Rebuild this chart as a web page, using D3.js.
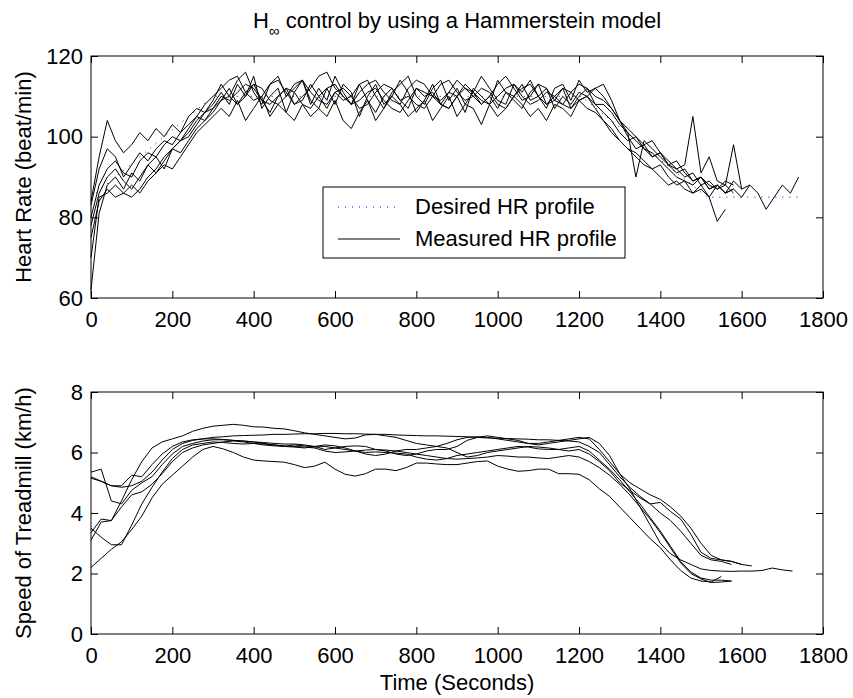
<!DOCTYPE html>
<html>
<head>
<meta charset="utf-8">
<script src="https://cdn.jsdelivr.net/npm/d3@7"></script>
<style>
  body { margin: 0; background: #fff; }
  text { font-family: "Liberation Sans", Arial, sans-serif; }
</style>
</head>
<body>
<svg id="chart" width="853" height="698"></svg>
<script>
// desired heart rate profile (beat/min)
var desiredTime = [0, 300, 1205, 1515, 1740];
var desiredHR = [85, 110, 110, 85, 85];

// measured heart rate, one sample every 20 s
var hrStep = 20;
var hrRun1 = [62, 81, 88, 90, 87, 91, 89, 93, 95, 92, 97, 99, 101, 104, 106, 108,
  111, 108, 113, 110, 115, 107, 110, 112, 106, 111, 114, 109, 107, 112, 108, 113, 111, 105, 110, 113,
  108, 110, 114, 111, 106, 109, 113, 108, 111, 110, 106, 112, 110, 108, 114, 111, 109, 107, 111, 113,
  108, 110, 112, 107, 110, 112, 108,
  108, 106, 103, 101, 99, 97, 96, 94, 92, 90, 89, 88, 90, 87, 88, 86, 89, 87, 88];
var hrRun2 = [84, 95, 104, 99, 96, 98, 101, 99, 102, 100, 103, 101, 105, 107, 106, 109,
  113, 110, 114, 116, 111, 108, 113, 115, 110, 112, 114, 108, 112, 109, 115, 111, 108, 113, 114, 110,
  107, 111, 113, 115, 110, 108, 112, 114, 109, 112, 108, 111, 115, 112, 109, 108, 113, 111, 114, 110,
  107, 112, 113, 109, 114, 111, 112,
  113, 109, 104, 100, 97, 98, 95, 96, 93, 94, 91, 89, 90, 88, 87, 89, 88];
var hrRun3 = [80, 88, 92, 94, 91, 90, 94, 96, 95, 98, 100, 99, 102, 105, 104, 107,
  109, 112, 108, 110, 113, 109, 106, 110, 112, 108, 109, 113, 110, 107, 111, 109, 110, 113, 109, 106,
  110, 112, 109, 107, 112, 110, 111, 108, 107, 110, 113, 111, 108, 110, 107, 111, 110, 113, 109, 110,
  112, 107, 110, 108, 111, 110, 108,
  106, 104, 101, 99, 100, 97, 95, 96, 93, 91, 92, 89, 90, 87, 88, 86, 87, 85, 88, 86, 82, 85, 88, 86, 90];
var hrRun4 = [70, 85, 86, 88, 86, 85, 87, 90, 92, 95, 97, 96, 99, 102, 104, 106,
  109, 110, 108, 111, 113, 112, 109, 108, 110, 113, 114, 111, 109, 108, 111, 112, 110, 107, 108, 111,
  113, 112, 109, 110, 108, 107, 110, 113, 114, 111, 109, 110, 112, 111, 108, 107, 110, 112, 113, 110,
  108, 109, 112, 111, 109, 110, 112,
  110, 107, 104, 101, 90, 99, 97, 95, 93, 92, 90, 91, 88, 89, 87, 88, 86];
var hrRun5 = [75, 84, 87, 85, 86, 88, 86, 89, 91, 93, 92, 95, 98, 101, 103, 105,
  107, 105, 109, 104, 107, 110, 105, 108, 106, 104, 108, 105, 107, 105, 109, 104, 102, 106, 109, 104,
  107, 110, 108, 105, 107, 109, 104, 107, 110, 105, 108, 107, 103, 108, 105, 107, 110, 108, 105, 107,
  104, 108, 107, 105, 109, 107, 106,
  104, 102, 99, 97, 95, 93, 92, 90, 88, 89, 87, 86, 88, 85, 79, 82];
var hrRun6 = [83, 92, 97, 95, 90, 93, 96, 94, 97, 99, 98, 101, 103, 105, 108, 110,
  112, 114, 115, 111, 109, 110, 113, 114, 111, 108, 110, 112, 115, 116, 112, 110, 108, 111, 113, 114,
  111, 109, 108, 112, 114, 113, 110, 109, 111, 114, 112, 110, 108, 110, 113, 115, 112, 109, 110, 113,
  112, 109, 108, 111, 113, 112, 110,
  109, 107, 104, 102, 100, 98, 99, 96, 94, 92, 93, 105, 91, 95, 89, 88, 98, 87];
var hrRun7 = [78, 86, 90, 92, 89, 87, 90, 93, 91, 94, 97, 99, 100, 103, 106, 107,
  110, 109, 111, 113, 112, 109, 108, 110, 112, 111, 108, 107, 110, 112, 113, 110, 108, 109, 111, 112,
  109, 107, 106, 109, 112, 111, 110, 108, 107, 110, 112, 111, 109, 108, 110, 112, 113, 110, 108, 109,
  111, 110, 108, 107, 109, 110, 107,
  104, 101, 99, 97, 96, 94, 92, 93, 90, 88, 89, 86, 87, 85, 88, 86, 87];

// treadmill speed (km/h), one sample every 25 s
var speedStep = 25;
var speedRun1 = [3.1, 3.7, 3.75, 4.4, 5.1, 5.7, 6.15, 6.35, 6.45, 6.55,
  6.7, 6.8, 6.87, 6.9, 6.93, 6.9, 6.85, 6.84, 6.8, 6.78,
  6.72, 6.65, 6.6, 6.55, 6.5, 6.45, 6.48, 6.58, 6.6, 6.55,
  6.5, 6.4, 6.3, 6.25, 6.2, 6.15, 6.0, 5.85, 5.9, 6.0,
  6.05, 6.1, 6.15, 6.2, 6.18, 6.15, 6.1, 6.05, 6.1, 5.95,
  5.7, 5.4, 5.0, 4.75, 4.5, 4.3, 4.35, 4.05, 3.8, 3.3,
  2.7, 2.5, 2.45, 2.4, 2.3, 2.25];
var speedRun2 = [5.2, 5.05, 4.9, 4.85, 4.9, 5.05, 5.35, 5.75, 6.1, 6.3,
  6.4, 6.45, 6.5, 6.52, 6.55, 6.56, 6.57, 6.58, 6.6, 6.6,
  6.61, 6.62, 6.62, 6.63, 6.63, 6.62, 6.62, 6.61, 6.6, 6.6,
  6.58, 6.57, 6.56, 6.55, 6.55, 6.54, 6.53, 6.52, 6.5, 6.48,
  6.47, 6.46, 6.45, 6.44, 6.42, 6.42, 6.4, 6.38, 6.35, 6.2,
  6.0, 5.6, 5.2, 4.85, 4.55, 4.3, 4.0, 3.75, 3.4, 3.0,
  2.6, 2.45, 2.4, 2.3];
var speedRun3 = [5.35, 5.45, 4.4, 4.3, 4.75, 5.0, 5.2, 5.6, 5.95, 6.2,
  6.3, 6.38, 6.42, 6.42, 6.4, 6.38, 6.35, 6.33, 6.3, 6.28,
  6.28, 6.25, 6.2, 6.1, 6.15, 6.2, 6.22, 6.2, 6.1, 6.05,
  5.95, 5.9, 5.95, 6.05, 6.1, 6.1, 6.2, 6.4, 6.5, 6.55,
  6.5, 6.45, 6.4, 6.3, 6.25, 6.3, 6.35, 6.4, 6.45, 6.5,
  6.3, 5.9, 5.3, 4.8, 4.2, 3.6, 3.0, 2.65, 2.45, 2.3,
  2.15, 2.1, 2.08, 2.07, 2.08, 2.08, 2.1, 2.18, 2.12, 2.08];
var speedRun4 = [3.5, 3.2, 2.95, 2.95, 3.6, 4.3, 4.85, 5.35, 5.8, 6.1,
  6.25, 6.3, 6.35, 6.33, 6.3, 6.28, 6.3, 6.25, 6.22, 6.2,
  6.25, 6.22, 6.18, 6.2, 6.15, 6.1, 6.05, 6.0, 6.02, 6.0,
  5.98, 5.95, 5.85, 5.78, 5.75, 5.8, 5.9, 5.95, 6.0, 6.05,
  6.1, 6.15, 6.2, 6.18, 6.12, 6.1, 6.1, 6.15, 6.2, 6.05,
  5.75, 5.45, 5.1, 4.7, 4.3, 3.85, 3.4, 2.9, 2.4, 2.05,
  1.85, 1.78, 1.78, 1.75];
var speedRun5 = [2.2, 2.5, 2.8, 3.05, 3.45, 3.9, 4.5, 4.95, 5.25, 5.55,
  5.85, 6.1, 6.2, 6.12, 6.0, 5.85, 5.75, 5.72, 5.7, 5.68,
  5.6, 5.5, 5.55, 5.68, 5.45, 5.28, 5.22, 5.3, 5.45, 5.45,
  5.4, 5.5, 5.65, 5.65, 5.62, 5.6, 5.6, 5.65, 5.7, 5.72,
  5.55, 5.45, 5.38, 5.4, 5.45, 5.45, 5.3, 5.3, 5.28, 5.1,
  4.8, 4.55, 4.2, 3.85, 3.5, 3.15, 2.85, 2.45, 2.1, 1.85,
  1.75, 1.72, 1.9];
var speedRun6 = [5.15, 5.05, 4.9, 4.9, 5.25, 5.2, 5.6, 5.95, 6.2, 6.35,
  6.42, 6.45, 6.45, 6.43, 6.4, 6.38, 6.35, 6.3, 6.25, 6.2,
  6.18, 6.15, 6.2, 6.25, 6.22, 6.15, 6.05, 5.95, 5.9, 5.95,
  6.05, 6.1, 6.1, 6.15, 6.2, 6.3, 6.42, 6.5, 6.52, 6.5,
  6.45, 6.4, 6.35, 6.3, 6.3, 6.35, 6.4, 6.45, 6.5, 6.45,
  6.1, 5.7, 5.3, 5.0, 4.8, 4.6, 4.45, 4.2, 3.9, 3.5,
  3.0, 2.6, 2.45, 2.4, 2.3];
var speedRun7 = [3.35, 3.8, 3.75, 4.2, 4.6, 4.7, 4.95, 5.3, 5.7, 6.0,
  6.15, 6.25, 6.3, 6.35, 6.38, 6.35, 6.3, 6.28, 6.25, 6.22,
  6.2, 6.18, 6.15, 6.05, 6.0, 6.02, 6.05, 6.08, 6.1, 6.08,
  6.05, 6.0, 5.95, 5.9, 5.85, 5.8, 5.78, 5.8, 5.82, 5.85,
  5.9, 5.88, 5.85, 5.85, 5.82, 5.8, 5.85, 5.9, 5.85, 5.7,
  5.5, 5.25, 4.95, 4.6, 4.2, 3.8, 3.35, 2.85, 2.35, 2.0,
  1.82, 1.7, 1.72, 1.75];

var timeTicks = [0, 200, 400, 600, 800, 1000, 1200, 1400, 1600, 1800];
var hrTicks = [60, 80, 100, 120];
var speedTicks = [0, 2, 4, 6, 8];
var legendLabels = ['Desired HR profile', 'Measured HR profile'];

var hrRuns = [hrRun1, hrRun2, hrRun3, hrRun4, hrRun5, hrRun6, hrRun7];
var speedRuns = [speedRun1, speedRun2, speedRun3, speedRun4, speedRun5, speedRun6, speedRun7];

var fontSize = 22;
var svg = d3.select('#chart');

var x = d3.scaleLinear().domain([0, 1800]).range([91, 823]);
var yHR = d3.scaleLinear().domain([60, 120]).range([298, 56]);
var ySpeed = d3.scaleLinear().domain([0, 8]).range([634, 392]);

function drawAxes(y, ticks, top, bottom) {
  var g = svg.append('g');
  g.append('g').attr('transform', 'translate(0,' + bottom + ')')
    .call(d3.axisBottom(x).tickValues(timeTicks).tickFormat(d3.format('d'))
      .tickSizeInner(-7).tickSizeOuter(0).tickPadding(13));
  g.append('g').attr('transform', 'translate(0,' + top + ')')
    .call(d3.axisTop(x).tickValues(timeTicks).tickSizeInner(-7).tickSizeOuter(0).tickFormat(''));
  g.append('g').attr('transform', 'translate(' + x.range()[0] + ',0)')
    .call(d3.axisLeft(y).tickValues(ticks).tickFormat(d3.format('d'))
      .tickSizeInner(-7).tickSizeOuter(0).tickPadding(8));
  g.append('g').attr('transform', 'translate(' + x.range()[1] + ',0)')
    .call(d3.axisRight(y).tickValues(ticks).tickSizeInner(-7).tickSizeOuter(0).tickFormat(''));
  g.selectAll('.domain').remove();
  g.selectAll('.tick line').attr('stroke', '#000');
  g.selectAll('text').attr('font-size', fontSize)
    .attr('font-family', '"Liberation Sans", Arial, sans-serif').attr('fill', '#000');
  g.append('rect')
    .attr('x', x.range()[0]).attr('y', top)
    .attr('width', x.range()[1] - x.range()[0]).attr('height', bottom - top)
    .attr('fill', 'none').attr('stroke', '#000').attr('stroke-width', 1);
}

function drawRuns(runs, step, y) {
  var line = d3.line()
    .x(function(d, i) { return x(i * step); })
    .y(function(d) { return y(d); });
  svg.append('g').selectAll('path')
    .data(runs)
    .enter()
    .append('path')
    .attr('d', line)
    .attr('fill', 'none')
    .attr('stroke', '#000')
    .attr('stroke-width', 1);
}

// top panel: heart rate
svg.append('path')
  .datum(desiredHR)
  .attr('d', d3.line()
    .x(function(d, i) { return x(desiredTime[i]); })
    .y(function(d) { return yHR(d); }))
  .attr('fill', 'none')
  .attr('stroke', '#0000ff')
  .attr('stroke-width', 1)
  .attr('stroke-dasharray', '1,6');
drawRuns(hrRuns, hrStep, yHR);
drawAxes(yHR, hrTicks, 56, 298);

// bottom panel: treadmill speed
drawRuns(speedRuns, speedStep, ySpeed);
drawAxes(ySpeed, speedTicks, 392, 634);

// title with subscript infinity
var title = svg.append('text')
  .attr('x', 457).attr('y', 28)
  .attr('text-anchor', 'middle')
  .attr('font-size', fontSize);
title.append('tspan').text('H');
title.append('tspan').attr('font-size', 15).attr('dy', 8).text('\u221e');
title.append('tspan').attr('dy', -8).text(' control by using a Hammerstein model');

svg.append('text')
  .attr('transform', 'translate(31,177) rotate(-90)')
  .attr('text-anchor', 'middle')
  .attr('font-size', fontSize)
  .text('Heart Rate (beat/min)');
svg.append('text')
  .attr('transform', 'translate(31,513) rotate(-90)')
  .attr('text-anchor', 'middle')
  .attr('font-size', fontSize)
  .text('Speed of Treadmill (km/h)');
svg.append('text')
  .attr('x', 457).attr('y', 690)
  .attr('text-anchor', 'middle')
  .attr('font-size', fontSize)
  .text('Time (Seconds)');

// legend
var legend = svg.append('g');
legend.append('rect')
  .attr('x', 323).attr('y', 187).attr('width', 302).attr('height', 71)
  .attr('fill', '#fff').attr('stroke', '#000').attr('stroke-width', 1);
legend.selectAll('line')
  .data(legendLabels)
  .enter()
  .append('line')
  .attr('x1', 338).attr('x2', 400)
  .attr('y1', function(d, i) { return 207 + i * 32; })
  .attr('y2', function(d, i) { return 207 + i * 32; })
  .attr('stroke', function(d, i) { return i === 0 ? '#0000ff' : '#000'; })
  .attr('stroke-dasharray', function(d, i) { return i === 0 ? '1,6' : null; });
legend.selectAll('text')
  .data(legendLabels)
  .enter()
  .append('text')
  .attr('x', 415)
  .attr('y', function(d, i) { return 214 + i * 32; })
  .attr('font-size', fontSize)
  .text(function(d) { return d; });
</script>
</body>
</html>
